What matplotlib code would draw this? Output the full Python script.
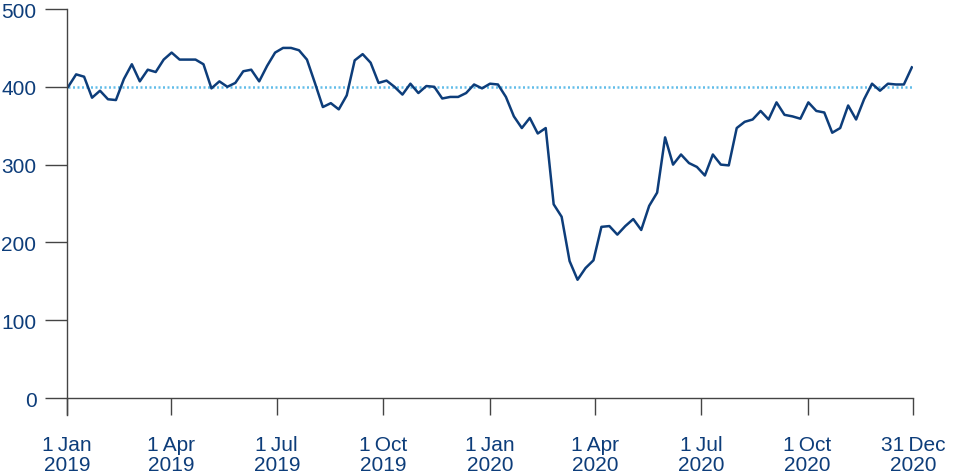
import matplotlib
matplotlib.use("Agg")
import matplotlib.pyplot as plt
import pandas as pd

# Values (roughly weekly, Jan 2019 - Dec 2020)
values = [
    400, 416, 413, 386, 395, 384, 383, 410, 429, 407, 422, 419, 435, 444,
    435, 435, 435, 429, 398, 407, 400, 405, 420, 422, 407, 427, 444, 450,
    450, 447, 435, 405, 374, 379, 371, 389, 434,
    442, 431, 405, 408, 400, 390, 404, 392, 401, 400, 385, 387, 387, 392,
    403, 398, 404, 403, 387, 362, 347, 360, 340, 347,
    249, 233, 176, 152, 167, 177, 220, 221, 210, 221, 230, 216, 247, 264,
    335, 300, 313,
    302, 297, 286, 313, 300, 299, 347, 355, 358, 369, 358, 380, 364, 362,
    359, 380, 369, 367, 341, 347, 376, 358, 384, 404, 395, 404, 403, 403, 425,
]
first_date = "2019-01-02"
last_date = "2020-12-30"
reference_level = 400

tick_dates = ["2019-01-01", "2019-04-01", "2019-07-01", "2019-10-01",
              "2020-01-01", "2020-04-01", "2020-07-01", "2020-10-01",
              "2020-12-31"]
tick_labels = ["1\u2009Jan\n2019", "1\u2009Apr\n2019", "1\u2009Jul\n2019",
               "1\u2009Oct\n2019", "1\u2009Jan\n2020", "1\u2009Apr\n2020",
               "1\u2009Jul\n2020", "1\u2009Oct\n2020", "31\u2009Dec\n2020"]
y_ticks = [0, 100, 200, 300, 400, 500]

NAVY = "#0d3d7a"
LIGHT = "#62bde9"
AXIS = "#444444"

plt.rcParams["font.family"] = ["Liberation Sans", "DejaVu Sans"]

dates = pd.date_range(first_date, last_date, periods=len(values))

fig = plt.figure(figsize=(9.56, 4.77), dpi=100)
ax = fig.add_axes([0.0701, 0.1635, 0.8849, 0.8155])

ax.plot([pd.Timestamp(first_date), pd.Timestamp(last_date)],
        [reference_level, reference_level],
        color=LIGHT, linestyle=(0, (0.8, 1.0)), linewidth=1.8, zorder=1)
ax.plot(dates, values, color=NAVY, linewidth=1.8, zorder=2)

ax.set_xlim(pd.Timestamp("2019-01-01"), pd.Timestamp("2020-12-31"))
ax.set_ylim(0, 500)

for side in ("top", "right"):
    ax.spines[side].set_visible(False)
for side in ("left", "bottom"):
    ax.spines[side].set_color(AXIS)
    ax.spines[side].set_linewidth(1.0)
ax.spines["left"].set_bounds(-22, 500)
ax.spines["left"].set_clip_on(False)

ax.set_xticks([pd.Timestamp(d) for d in tick_dates])
ax.set_xticklabels(tick_labels)
ax.set_yticks(y_ticks)
ax.tick_params(axis="x", direction="out", length=12.5, width=1.0, color=AXIS,
               pad=14, labelsize=15, labelcolor=NAVY)
ax.tick_params(axis="y", direction="out", length=16, width=1.0, color=AXIS,
               pad=6, labelsize=15, labelcolor=NAVY)
for lbl in ax.get_xticklabels():
    lbl.set_linespacing(1.1)

fig.savefig("out.png", dpi=100)
